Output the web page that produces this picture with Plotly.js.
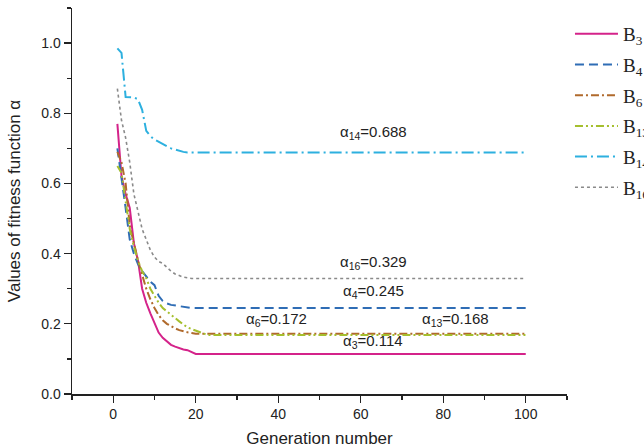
<!DOCTYPE html>
<html>
<head>
<meta charset="utf-8">
<script src="https://cdn.plot.ly/plotly-3.0.1.min.js"></script>
<style>html,body{margin:0;padding:0;background:#fff;}#chart{width:644px;height:448px;}</style>
</head>
<body>
<div id="chart"></div>
<script>
const names = ["B<sub>3</sub>", "B<sub>4</sub>", "B<sub>6</sub>", "B<sub>13</sub>", "B<sub>14</sub>", "B<sub>16</sub>"];

const genB3 = [1,2,3,4,5,6,7,8,9,10,11,12,13,14,15,16,17,18,19,20,100];
const valB3 = [0.77,0.62,0.57,0.53,0.43,0.38,0.30,0.26,0.23,0.20,0.175,0.16,0.15,0.14,0.135,0.13,0.127,0.125,0.12,0.114,0.114];

const genB4 = [1,2,3,4,5,6,7,8,9,10,11,12,13,14,15,16,17,18,19,100];
const valB4 = [0.70,0.62,0.53,0.44,0.40,0.37,0.35,0.335,0.32,0.31,0.28,0.265,0.258,0.254,0.252,0.25,0.248,0.246,0.245,0.245];

const genB6 = [1,2,3,4,5,6,7,8,9,10,11,12,13,14,15,16,17,18,19,20,100];
const valB6 = [0.69,0.66,0.60,0.48,0.43,0.38,0.34,0.30,0.27,0.245,0.225,0.21,0.20,0.193,0.187,0.182,0.178,0.176,0.174,0.172,0.172];

const genB13 = [1,2,3,4,5,6,7,8,9,10,11,12,13,14,15,16,17,18,19,20,21,22,23,100];
const valB13 = [0.65,0.63,0.55,0.47,0.42,0.38,0.35,0.33,0.30,0.28,0.26,0.245,0.235,0.225,0.215,0.207,0.198,0.19,0.185,0.18,0.176,0.172,0.168,0.168];

const genB14 = [1,2,3,4,5,6,7,8,9,10,11,12,13,14,15,16,17,18,100];
const valB14 = [0.985,0.972,0.846,0.846,0.845,0.84,0.81,0.75,0.735,0.725,0.718,0.712,0.706,0.70,0.696,0.693,0.69,0.688,0.688];

const genB16 = [1,2,3,4,5,6,7,8,9,10,11,12,13,14,15,16,17,18,19,100];
const valB16 = [0.87,0.78,0.73,0.66,0.57,0.52,0.47,0.44,0.41,0.39,0.378,0.372,0.36,0.35,0.342,0.337,0.333,0.331,0.329,0.329];

const labelTexts = ["α<sub>14</sub>=0.688","α<sub>16</sub>=0.329","α<sub>4</sub>=0.245","α<sub>6</sub>=0.172","α<sub>13</sub>=0.168","α<sub>3</sub>=0.114"];
const labelX = [63, 63, 63, 39.5, 83, 63];
const labelY = [0.744, 0.376, 0.291, 0.211, 0.211, 0.151];

const xs = [genB3, genB4, genB6, genB13, genB14, genB16];
const ys = [valB3, valB4, valB6, valB13, valB14, valB16];
const colors = ["#d4238a", "#2f6db5", "#b06a2c", "#a5bf2e", "#2db0df", "#8a8a8a"];
const dashes = ["solid", "9px,5px", "8px,3px,2px,3px", "8px,3px,2px,3px,2px,3px", "12px,4px,2px,4px", "dot"];
const widths = [2, 2, 2, 2, 2, 1.6];

const traces = names.map((n, i) => ({
  x: xs[i], y: ys[i], name: n, type: "scatter", mode: "lines",
  legendgroup: "g" + i,
  line: {color: colors[i], width: widths[i], dash: dashes[i]}
}));

const annotations = labelTexts.map((t, i) => ({
  x: labelX[i], y: labelY[i], xref: "x", yref: "y", text: t, showarrow: false,
  font: {family: "Liberation Sans, Arial", size: 15, color: "#222"}
}));

const layout = {
  width: 644, height: 448,
  margin: {l: 72, r: 77, t: 8, b: 54, autoexpand: false},
  paper_bgcolor: "#fff", plot_bgcolor: "#fff",
  font: {family: "Liberation Sans, Arial", color: "#222"},
  showlegend: true,
  legend: {x: 1.006, xanchor: "left", y: 0.982, yanchor: "top",
    font: {family: "Liberation Serif, Times New Roman", size: 19, color: "#222"},
    itemwidth: 43, tracegroupgap: 3, bgcolor: "rgba(0,0,0,0)"},
  xaxis: {range: [-10, 110], showgrid: false, zeroline: false, showline: true, linecolor: "#222", linewidth: 1.5,
    ticks: "outside", ticklen: 7, tickwidth: 1.2, tickcolor: "#222", dtick: 20, tick0: 0,
    minor: {dtick: 10, ticks: "outside", ticklen: 4, tickwidth: 1.2, tickcolor: "#222", showgrid: false},
    tickfont: {size: 14}, title: {text: "Generation number", font: {size: 17}, standoff: 12}},
  yaxis: {range: [0, 1.1], showgrid: false, zeroline: false, showline: true, linecolor: "#222", linewidth: 1.5,
    ticks: "outside", ticklen: 7, tickwidth: 1.2, tickcolor: "#222", dtick: 0.2, tick0: 0, tickformat: ".1f",
    minor: {dtick: 0.1, ticks: "outside", ticklen: 4, tickwidth: 1.2, tickcolor: "#222", showgrid: false},
    tickfont: {size: 14}, title: {text: "Values of fitness function α", font: {size: 17}, standoff: 16}},
  annotations: annotations
};

Plotly.newPlot("chart", traces, layout, {displayModeBar: false, staticPlot: true});
</script>
</body>
</html>
